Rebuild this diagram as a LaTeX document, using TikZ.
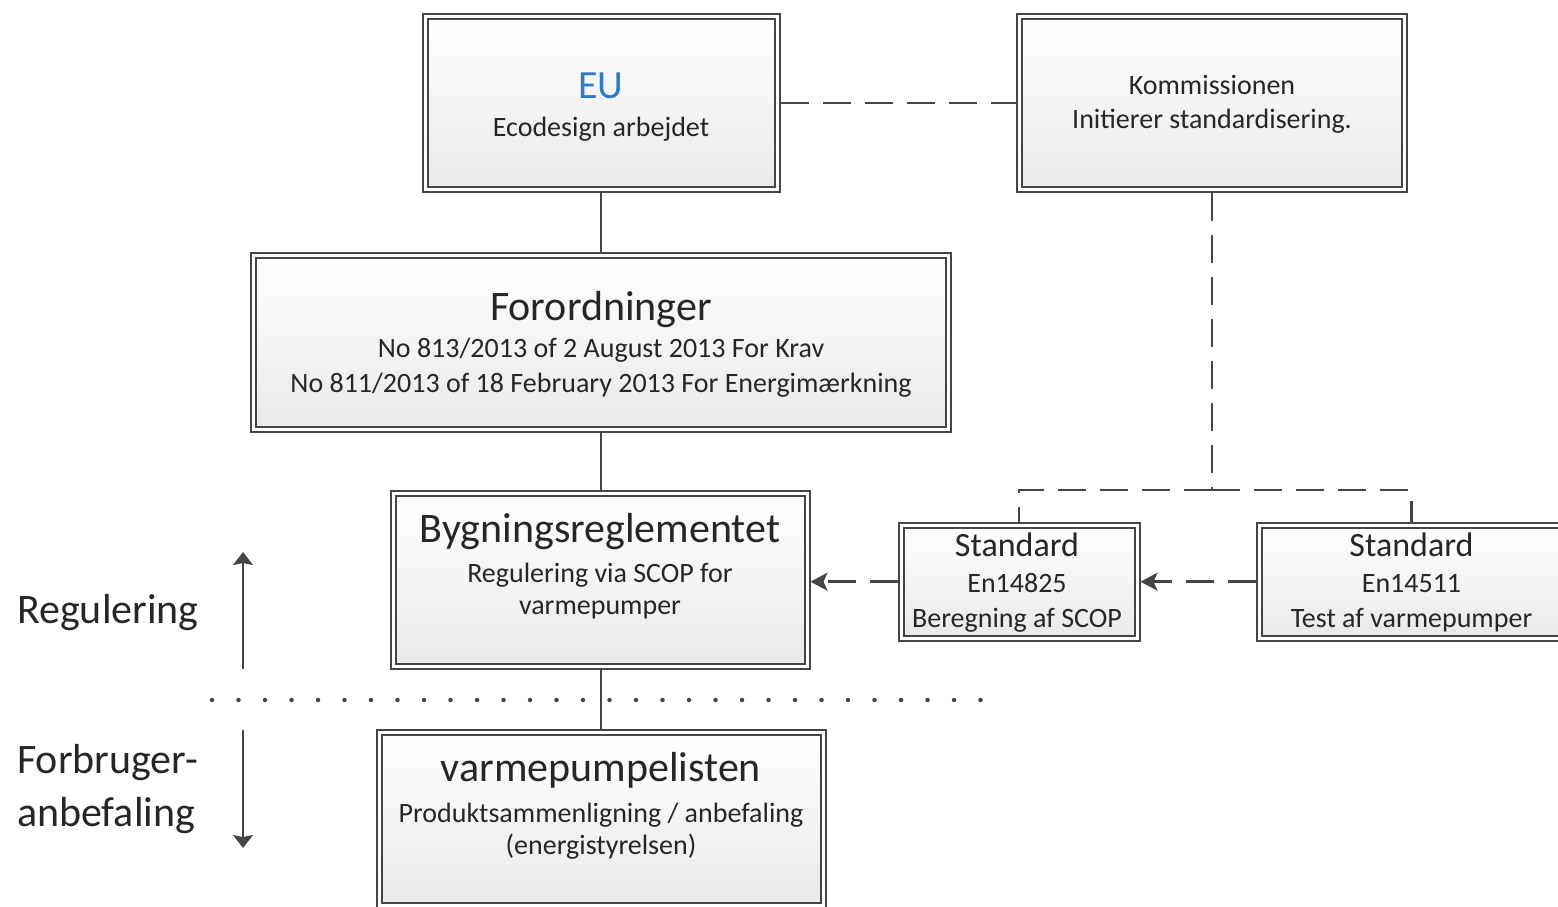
\documentclass[tikz,border=0pt]{standalone}
\usepackage{fontspec}
\setmainfont{Carlito}
\usetikzlibrary{arrows.meta,shadows}
\definecolor{bdr}{HTML}{454545}
\definecolor{tcol}{HTML}{262626}
\definecolor{eublue}{HTML}{2E7DC4}
\definecolor{boxbot}{HTML}{E9E9E9}
\newcommand{\fsTitle}{\fontsize{42}{50}\selectfont}
\newcommand{\fsSub}{\fontsize{28}{34}\selectfont}
\newcommand{\fsStd}{\fontsize{34}{40}\selectfont}
\newcommand{\fsEU}{\fontsize{40}{48}\selectfont}
\begin{document}
\begin{tikzpicture}[x=1pt,y=-1pt,
  box/.style={draw=bdr, double=white, double distance=3pt, line width=2pt,
    top color=white, bottom color=boxbot,
    drop shadow={shadow xshift=3pt, shadow yshift=-3pt, opacity=0.25, fill=gray},
    inner sep=0pt, outer sep=3.5pt},
  txt/.style={anchor=base, inner sep=0pt, text=tcol},
  lbl/.style={anchor=base west, inner sep=0pt, text=tcol, font=\fsTitle},
  conn/.style={draw=bdr, line width=2pt},
  dconn/.style={draw=bdr, line width=2.7pt, dash pattern=on 28pt off 14pt},
  tip/.style={-{Stealth[length=17pt,width=18pt,inset=4pt]}},
  dots/.style={draw=bdr, line width=4.5pt, line cap=round, dash pattern=on 0pt off 26.5pt},
  varrow/.style={draw=bdr, line width=1.8pt, -{Stealth[length=13pt,width=20pt,inset=2pt]}}
]
\useasboundingbox (0,0) rectangle (1558,906);
\clip (0,0) rectangle (1558,906);

% boxes
\node[box, minimum width=352pt, minimum height=173pt] (eu) at (601,103) {};
\node[box, minimum width=385pt, minimum height=173pt] (kom) at (1212,103) {};
\node[box, minimum width=695pt, minimum height=174pt] (for) at (601,342.5) {};
\node[box, minimum width=414pt, minimum height=173pt] (byg) at (600,580) {};
\node[box, minimum width=236pt, minimum height=113pt] (s1) at (1019,581.7) {};
\node[box, minimum width=304pt, minimum height=113pt] (s2) at (1411.5,581.7) {};
\node[box, minimum width=444pt, minimum height=173pt] (var) at (601.4,819) {};

% texts
\node[txt, font=\fsEU, text=eublue] (eu-a) at (601,98) {EU};
\node[txt, font=\fsSub] (eu-b) at (601,136) {Ecodesign arbejdet};
\node[txt, font=\fsSub] (kom-a) at (1212,94) {Kommissionen};
\node[txt, font=\fsSub] (kom-b) at (1212,128) {Initierer standardisering.};
\node[txt, font=\fsTitle] (for-a) at (601,320) {Forordninger};
\node[txt, font=\fsSub] (for-b) at (601,357) {No 813/2013 of 2 August 2013 For Krav};
\node[txt, font=\fsSub] (for-c) at (601,392) {No 811/2013 of 18 February 2013 For Energimærkning};
\node[txt, font=\fsTitle] (byg-a) at (600,542) {Bygningsreglementet};
\node[txt, font=\fsSub] (byg-b) at (600,582) {Regulering via SCOP for};
\node[txt, font=\fsSub] (byg-c) at (600,614) {varmepumper};
\node[txt, font=\fsStd] (s1-a) at (1017,556) {Standard};
\node[txt, font=\fsSub] (s1-b) at (1017,592) {En14825};
\node[txt, font=\fsSub] (s1-c) at (1017,627) {Beregning af SCOP};
\node[txt, font=\fsStd] (s2-a) at (1411.5,556) {Standard};
\node[txt, font=\fsSub] (s2-b) at (1411.5,592) {En14511};
\node[txt, font=\fsSub] (s2-c) at (1411.5,627) {Test af varmepumper};
\node[txt, font=\fsTitle] (var-a) at (601,781) {varmepumpelisten};
\node[txt, font=\fsSub] (var-b) at (601,822) {Produktsammenligning / anbefaling};
\node[txt, font=\fsSub] (var-c) at (601,854) {(energistyrelsen)};

\node[lbl] (reg) at (17,623) {Regulering};
\node[lbl] (forb1) at (17,773) {Forbruger-};
\node[lbl] (forb2) at (17,826) {anbefaling};

% connectors
\draw[conn] (eu.south) -- (for.north);
\draw[conn] (for.south) -- (for.south |- byg.north);
\draw[conn] (byg.south -| for.south) -- (for.south |- var.north);
\draw[dconn] (eu.east) -- (kom.west);
\coordinate (j) at (1212,490);
\draw[dconn] (kom.south) -- (j);
\draw[dconn] (j) -| (s1.north);
\draw[dconn] (j) -| (s2.north);
\draw[dconn, tip] (s2.west) -- (s1.east);
\draw[dconn, tip] (s1.west) -- (s1.west -| byg.east);

% separator and side arrows
\coordinate (d1) at (212,700);
\coordinate (d2) at (985,700);
\draw[dots] (d1) -- (d2);
\coordinate (ua) at (243,669);
\coordinate (ub) at (243,552);
\coordinate (da) at (243,730);
\coordinate (db) at (243,848);
\draw[varrow] (ua) -- (ub);
\draw[varrow] (da) -- (db);
\end{tikzpicture}
\end{document}
